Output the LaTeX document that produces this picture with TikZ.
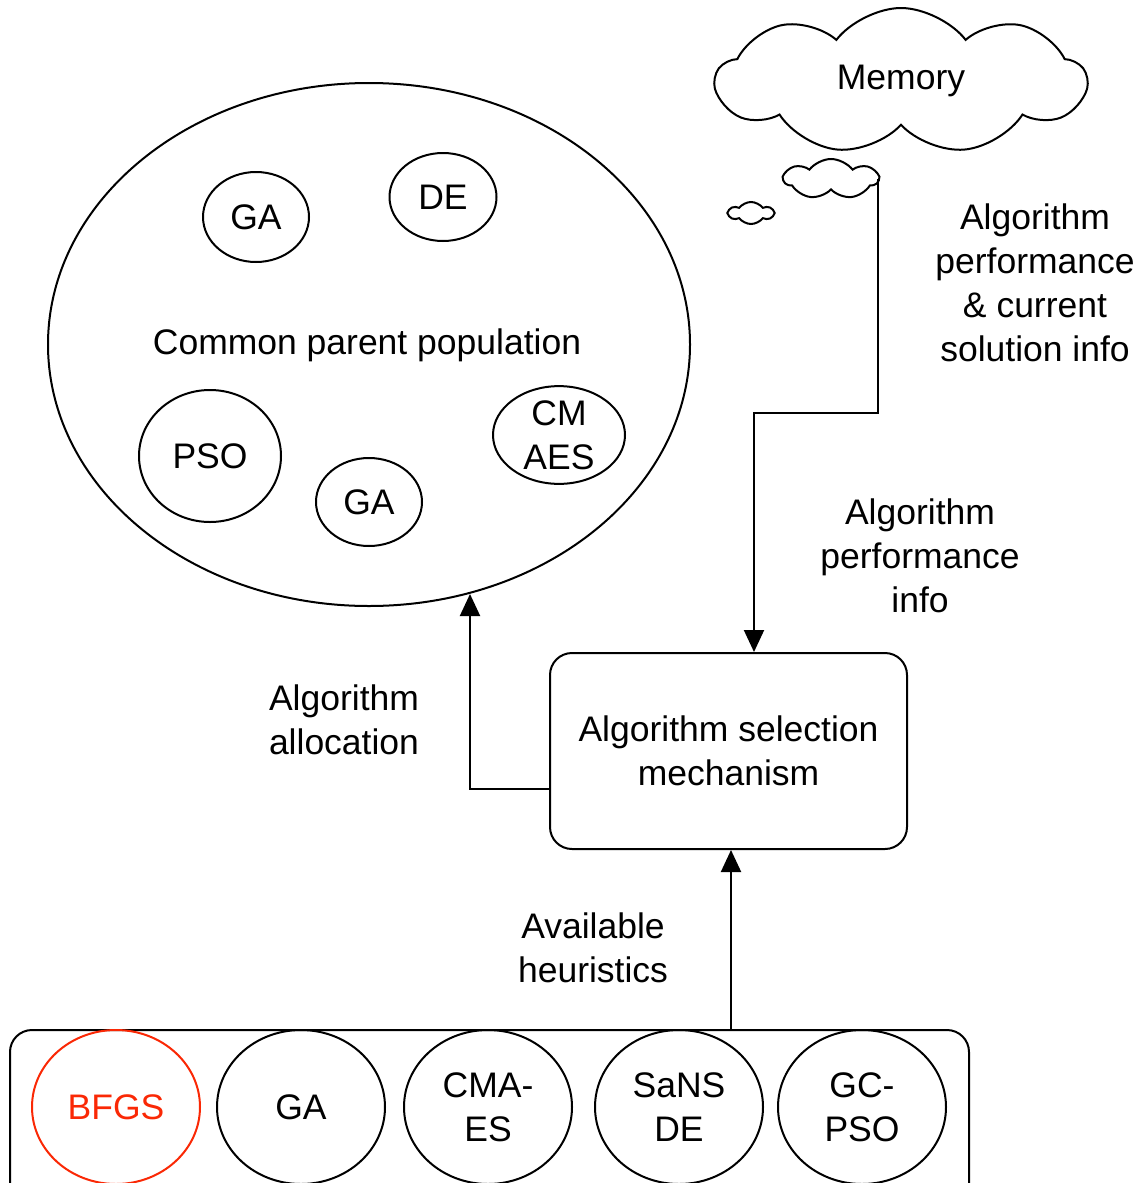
\documentclass[tikz,border=0pt]{standalone}
\usepackage{fontspec}
\setmainfont{Liberation Sans}
\usepackage{tikz}
\usetikzlibrary{shapes.geometric, shapes.symbols, arrows.meta}
\definecolor{bfgsred}{RGB}{250,40,5}

\tikzset{
	txt/.style={font=\fontsize{35.5}{44}\selectfont, align=center},
	algo/.style={txt, draw, line width=2pt, ellipse, inner sep=0pt},
	puff/.style={draw, line width=2pt, cloud, cloud puff arc=105, inner sep=0pt, aspect=2},
	flow/.style={line width=2pt, -{Triangle[length=22pt, width=20pt]}}
}

\begin{document}
\begin{tikzpicture}[x=1pt, y=-1pt]
	\path[use as bounding box, clip] (0,0) rectangle (1145,1183);

	% common parent population
	\node[algo, minimum width=642pt, minimum height=523pt] (pop) at (369,344.5) {};
	\node[txt] (poptxt) at (367,345) {Common parent population};
	\node[algo, minimum width=106pt, minimum height=90pt] (ga1) at (256,217) {GA};
	\node[algo, minimum width=107pt, minimum height=88pt] (de1) at (443,197) {DE};
	\node[algo, minimum width=142pt, minimum height=132pt] (pso1) at (210,456) {PSO};
	\node[algo, minimum width=106pt, minimum height=88pt] (ga2) at (369,502) {GA};
	\node[algo, minimum width=132pt, minimum height=90pt] (cma1) at (559,435) {CM\\AES};

	% memory
	\node[puff, cloud puffs=9, minimum width=370pt, minimum height=146pt, txt] (mem) at (901,81) {Memory};
	\node[puff, cloud puffs=7, minimum width=94pt, minimum height=40pt] (memS) at (831,179) {};
	\node[puff, cloud puffs=6, minimum width=44pt, minimum height=22pt] (memT) at (751,213) {};

	% selection
	\node[txt, draw, line width=2pt, rounded corners=22pt, minimum width=357pt, minimum height=196pt] (sel) at (728.5,751) {Algorithm selection\\mechanism};

	% available heuristics
	\node[draw, line width=2pt, rounded corners=22pt, minimum width=959pt, minimum height=190pt] (heur) at (489.5,1125) {};
	\node[algo, draw=bfgsred, text=bfgsred, minimum width=168pt, minimum height=154pt] (bfgs) at (116,1107) {BFGS};
	\node[algo, minimum width=168pt, minimum height=154pt] (ga3) at (301,1107) {GA};
	\node[algo, minimum width=168pt, minimum height=154pt] (cma2) at (488,1107) {CMA-\\ES};
	\node[algo, minimum width=168pt, minimum height=154pt] (sans) at (679,1107) {SaNS\\DE};
	\node[algo, minimum width=168pt, minimum height=154pt] (gcpso) at (862,1107) {GC-\\PSO};

	% connectors
	\coordinate (allocEnd) at (470,594);
	\draw[flow] ([xshift=-2pt]memS.east) -- ++(0,234) -| ([xshift=25.5pt]sel.north);
	\draw[flow] ([yshift=-38pt]sel.west) -| (allocEnd);
	\draw[flow] (heur.north -| 731,0) -- ([xshift=2.5pt]sel.south);

	% labels
	\node[txt] (lblmem) at (1035,283) {Algorithm\\performance\\\& current\\solution info};
	\node[txt] (lblperf) at (920,556) {Algorithm\\performance\\info};
	\node[txt] (lblalloc) at (344,720) {Algorithm\\allocation};
	\node[txt] (lblavail) at (593,948) {Available\\heuristics};
\end{tikzpicture}
\end{document}
